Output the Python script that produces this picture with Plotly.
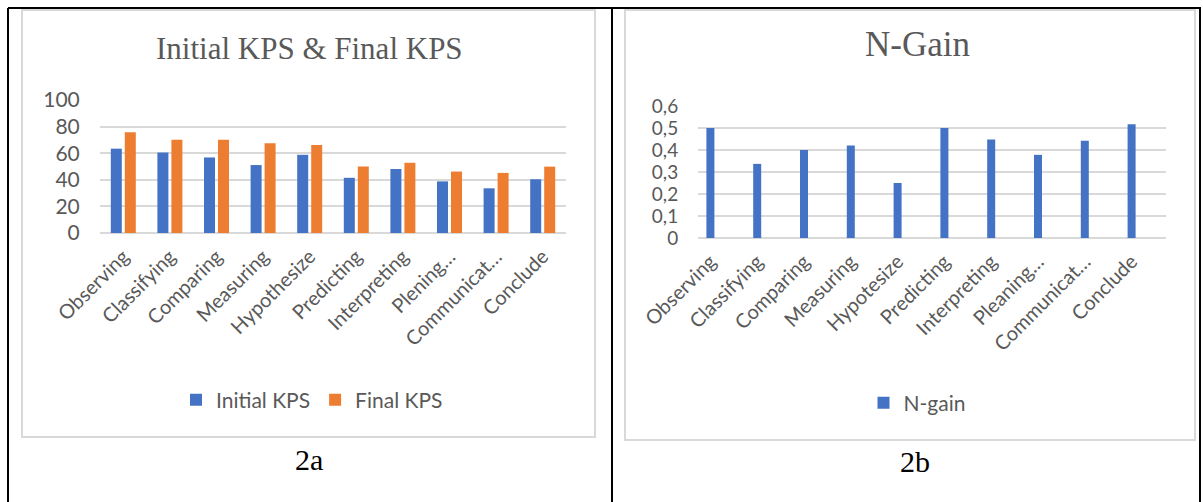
import plotly.graph_objects as go

# ---------------- data ----------------
skills_a = ["Observing", "Classifying", "Comparing", "Measuring", "Hypothesize",
            "Predicting", "Interpreting", "Plening…", "Communicat…", "Conclude"]
initial_kps = [63.4, 60.5, 56.8, 51.1, 58.8, 41.5, 48.1, 38.8, 33.6, 40.4]
final_kps = [75.7, 70.1, 70.1, 67.4, 66.2, 50.0, 52.8, 46.2, 45.2, 49.9]

skills_b = ["Observing", "Classifying", "Comparing", "Measuring", "Hypotesize",
            "Predicting", "Interpreting", "Pleaning…", "Communicat…", "Conclude"]
n_gain = [0.50, 0.337, 0.40, 0.42, 0.25, 0.50, 0.448, 0.378, 0.442, 0.517]

title_a = "Initial KPS & Final KPS"
title_b = "N-Gain"
caption_a = "2a"
caption_b = "2b"

# ---------------- style ----------------
W, H = 1203, 502
BLUE = "#4472C4"
ORANGE = "#ED7D31"
GRAY_TXT = "#595959"
GRID = "#D9D9D9"
SANS = "Lato, 'Open Sans', sans-serif"
SERIF = "'Liberation Serif', 'DejaVu Serif', serif"


def px_x(p):
    return p / W


def px_y(p):
    return 1 - p / H


fig = go.Figure()

# left chart bars
cw_a = 46.6
bw_a = 11 / cw_a
gap_a = 1.5 / cw_a
fig.add_trace(go.Bar(x=skills_a, y=initial_kps, name="Initial KPS",
                     marker=dict(color=BLUE, line=dict(width=0)),
                     width=bw_a, offset=-(bw_a + gap_a),
                     xaxis="x", yaxis="y", legend="legend"))
fig.add_trace(go.Bar(x=skills_a, y=final_kps, name="Final KPS",
                     marker=dict(color=ORANGE, line=dict(width=0)),
                     width=bw_a, offset=gap_a,
                     xaxis="x", yaxis="y", legend="legend"))

# right chart bars
bw_b = 8 / 46.8
fig.add_trace(go.Bar(x=skills_b, y=n_gain, name="N-gain",
                     marker=dict(color=BLUE, line=dict(width=0)),
                     width=bw_b, offset=-bw_b / 2,
                     xaxis="x2", yaxis="y2", legend="legend2"))

xfont = dict(family=SANS, size=20, color=GRAY_TXT)

common_x = dict(tickangle=-45, tickfont=xfont, automargin=False,
                showgrid=False, zeroline=False, showline=False,
                ticks="outside", ticklen=3, tickcolor="rgba(0,0,0,0)",
                fixedrange=True)
common_y = dict(automargin=False,
                showgrid=True, gridcolor=GRID, gridwidth=1.6,
                zeroline=True, zerolinecolor=GRID, zerolinewidth=1.6,
                showline=False,
                ticks="outside", ticklen=15, tickcolor="rgba(0,0,0,0)",
                fixedrange=True)

legend_font = dict(family=SANS, size=21, color=GRAY_TXT)

fig.update_layout(
    template="none",
    width=W, height=H,
    autosize=False,
    margin=dict(l=0, r=0, t=0, b=0, pad=0),
    paper_bgcolor="white", plot_bgcolor="white",
    barmode="overlay",
    separators=",.",
    showlegend=True,
    xaxis=dict(domain=[px_x(100), px_x(566)], anchor="y",
               range=[-0.5, 9.5], **common_x),
    yaxis=dict(domain=[px_y(233), px_y(100)], anchor="x",
               range=[0, 100], dtick=20,
               tickfont=dict(family=SANS, size=21, color=GRAY_TXT), **common_y),
    xaxis2=dict(domain=[px_x(698), px_x(1166)], anchor="y2",
                range=[-0.265, 9.735], **common_x),
    yaxis2=dict(domain=[px_y(238), px_y(106)], anchor="x2",
                range=[0, 0.6], dtick=0.1,
                tickfont=dict(family=SANS, size=19, color=GRAY_TXT), **common_y),
    legend=dict(orientation="h", x=px_x(312), xanchor="center",
                y=px_y(400), yanchor="middle", font=legend_font,
                itemwidth=30,
                bgcolor="rgba(0,0,0,0)", itemclick=False, itemdoubleclick=False),
    legend2=dict(orientation="h", x=px_x(917), xanchor="center",
                 y=px_y(403), yanchor="middle", font=legend_font,
                 itemwidth=30,
                 bgcolor="rgba(0,0,0,0)", itemclick=False, itemdoubleclick=False),
)

# titles and captions
fig.add_annotation(text=title_a, x=px_x(309), y=px_y(48), xref="paper", yref="paper",
                   xanchor="center", yanchor="middle", showarrow=False,
                   font=dict(family=SERIF, size=31, color=GRAY_TXT))
fig.add_annotation(text=title_b, x=px_x(917), y=px_y(44), xref="paper", yref="paper",
                   xanchor="center", yanchor="middle", showarrow=False,
                   font=dict(family=SERIF, size=35, color=GRAY_TXT))
fig.add_annotation(text=caption_a, x=px_x(309), y=px_y(459), xref="paper", yref="paper",
                   xanchor="center", yanchor="middle", showarrow=False,
                   font=dict(family=SERIF, size=30, color="black"))
fig.add_annotation(text=caption_b, x=px_x(915), y=px_y(461), xref="paper", yref="paper",
                   xanchor="center", yanchor="middle", showarrow=False,
                   font=dict(family=SERIF, size=30, color="black"))

# chart panel borders (light gray)
for (x0, x1, y0, y1) in [(22, 595, 10, 437), (625, 1195, 10, 440)]:
    fig.add_shape(type="rect", xref="paper", yref="paper",
                  x0=px_x(x0), x1=px_x(x1), y0=px_y(y1), y1=px_y(y0),
                  line=dict(color=GRID, width=2), fillcolor="rgba(0,0,0,0)",
                  layer="below")

# table lines (black)
table_lines = [(8, 1201, 8, 8), (8, 8, 8, 502), (612, 612, 8, 502),
               (1200, 1200, 8, 502)]
for (x0, x1, y0, y1) in table_lines:
    fig.add_shape(type="line", xref="paper", yref="paper",
                  x0=px_x(x0), x1=px_x(x1), y0=px_y(y0), y1=px_y(y1),
                  line=dict(color="black", width=2))

fig.write_html("out.html")
